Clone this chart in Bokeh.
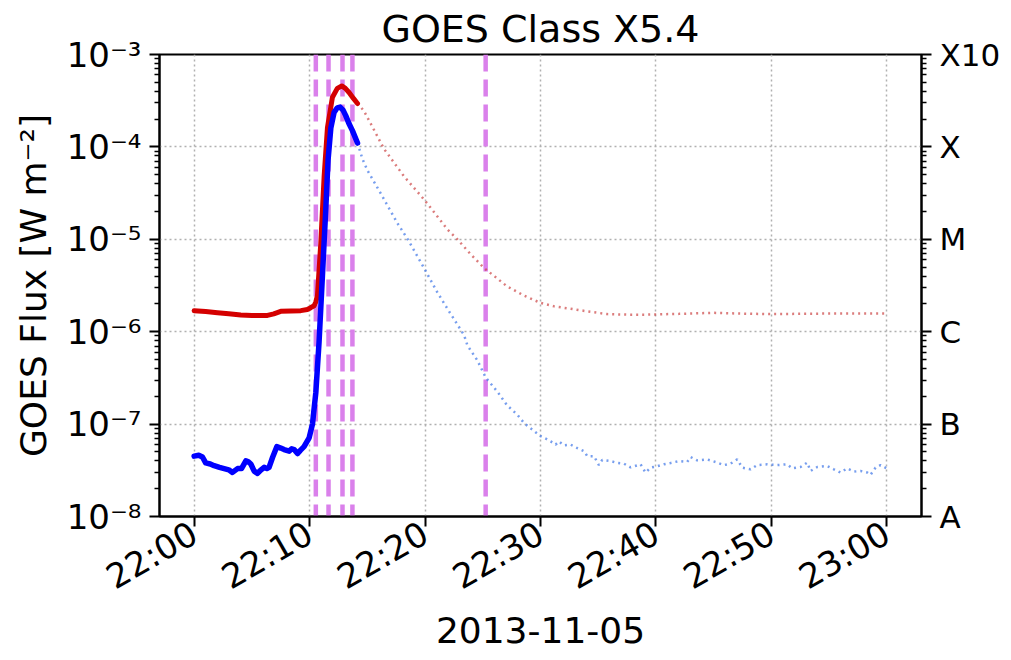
import numpy as np
import pandas as pd
from bokeh.plotting import figure
from bokeh.models import (FixedTicker, CustomJSTickFormatter, LogAxis, Span,
                          DatetimeTickFormatter, Range1d)
from bokeh.embed import file_html
from bokeh.resources import INLINE

# ---------------- data (minutes after 22:00 UT, 2013-11-05) ----------------
date_str = "2013-11-05"
start_str = "22:00"
title_str = "GOES Class X5.4"

# 1-8 A channel, solid part
long_solid_t = [0, 1, 2.02, 3, 4.04, 5, 6.35, 6.9, 7.5, 8.4, 9.24, 9.8, 10.1, 10.39,
                10.54, 10.68, 10.97, 11.26, 11.55, 11.98, 12.4, 12.79, 13.1, 13.42,
                13.8, 14.15]
long_solid_v = [1.69e-6, 1.65e-6, 1.6e-6, 1.56e-6, 1.52e-6, 1.5e-6, 1.5e-6, 1.56e-6,
                1.66e-6, 1.68e-6, 1.69e-6, 1.74e-6, 1.82e-6, 1.91e-6, 2.1e-6, 2.45e-6,
                9.1e-6, 4.8e-5, 1.63e-4, 3.45e-4, 4.3e-4, 4.57e-4, 4.3e-4, 3.88e-4,
                3.35e-4, 2.95e-4]
# 1-8 A channel, dotted part
long_dot_t = [14.15, 14.7, 15.3, 16.45, 18.18, 19.91, 20.5, 21.94, 22.8, 23.95, 25.1,
              26.1, 27.1, 28.6, 30.0, 31.2, 32.6, 34.06, 35.8, 37.5, 39.25, 42.0, 45.0,
              47.5, 49.9, 52.0, 54.5, 57.0, 60.0]
long_dot_v = [2.95e-4, 2.46e-4, 1.78e-4, 9.5e-5, 4.8e-5, 2.7e-5, 2.18e-5, 1.28e-5,
              1.0e-5, 6.9e-6, 4.9e-6, 3.9e-6, 3.1e-6, 2.45e-6, 2.05e-6, 1.88e-6,
              1.77e-6, 1.66e-6, 1.55e-6, 1.53e-6, 1.53e-6, 1.56e-6, 1.6e-6, 1.57e-6,
              1.55e-6, 1.56e-6, 1.57e-6, 1.57e-6, 1.57e-6]

# 0.5-4 A channel, solid part
short_solid_t = [0, 0.4, 0.72, 1.0, 1.4, 1.73, 2.2, 2.6, 3.0, 3.32, 3.76, 4.1, 4.48,
                 4.7, 4.91, 5.2, 5.49, 5.8, 6.06, 6.3, 6.49, 6.79, 7.16, 7.5, 7.79,
                 8.23, 8.45, 8.66, 8.95, 9.2, 9.52, 9.96, 10.25, 10.54, 10.82, 11.11,
                 11.4, 11.6, 11.84, 12.12, 12.4, 12.64, 12.9, 13.13, 13.4, 13.71, 14.15]
short_solid_v = [4.5e-8, 4.6e-8, 4.4e-8, 3.8e-8, 3.7e-8, 3.55e-8, 3.4e-8, 3.3e-8,
                 3.2e-8, 3.0e-8, 3.3e-8, 3.3e-8, 4.0e-8, 3.9e-8, 3.7e-8, 3.1e-8,
                 2.93e-8, 3.2e-8, 3.4e-8, 3.3e-8, 3.4e-8, 4.35e-8, 5.7e-8, 5.5e-8,
                 5.3e-8, 5.1e-8, 5.4e-8, 5.3e-8, 4.8e-8, 5.2e-8, 5.7e-8, 7.1e-8,
                 1.0e-7, 2.2e-7, 7.7e-7, 4.0e-6, 2.1e-5, 7.2e-5, 1.6e-4, 2.36e-4,
                 2.65e-4, 2.7e-4, 2.5e-4, 2.18e-4, 1.8e-4, 1.5e-4, 1.1e-4]
# 0.5-4 A channel, dotted part
short_dot_t = [14.15, 14.58, 15.0, 15.73, 16.45, 17.6, 18.5, 19.91, 21.07, 21.94,
               23.38, 23.67, 24.53, 25.25, 26.27, 27.1, 28.0, 28.6, 29.3, 30.01,
               30.45, 30.88, 31.31, 31.6, 32.03, 32.6, 33.19, 33.77, 34.05, 34.63,
               35.06, 35.35, 36.07, 36.65, 37.23, 37.8, 38.67, 39.1, 39.54, 40.11,
               40.69, 41.27, 41.99, 42.71, 43.0, 43.58, 44.44, 45.31, 45.89, 46.46,
               47.04, 47.48, 48.19, 48.77, 49.64, 50.5, 51.37, 51.8, 52.52, 53.1,
               53.39, 53.97, 54.83, 55.41, 55.99, 56.56, 57.14, 57.72, 58.3, 58.58,
               59.02, 59.45, 59.97]
short_dot_v = [1.1e-4, 7.4e-5, 5.6e-5, 3.9e-5, 2.7e-5, 1.5e-5, 1.0e-5, 4.9e-6,
               2.66e-6, 1.77e-6, 9.2e-7, 7.1e-7, 4.9e-7, 3.2e-7, 2.24e-7, 1.6e-7,
               1.26e-7, 1.02e-7, 8.7e-8, 7.4e-8, 6.98e-8, 6.5e-8, 6.0e-8, 6.5e-8,
               5.9e-8, 6.0e-8, 5.5e-8, 5.1e-8, 4.5e-8, 4.5e-8, 3.6e-8, 4.1e-8,
               3.98e-8, 3.8e-8, 3.73e-8, 3.4e-8, 3.67e-8, 2.99e-8, 3.38e-8, 3.5e-8,
               3.67e-8, 3.8e-8, 3.98e-8, 3.9e-8, 4.4e-8, 4.05e-8, 4.15e-8, 3.83e-8,
               3.6e-8, 3.73e-8, 4.15e-8, 3.38e-8, 3.24e-8, 3.6e-8, 3.67e-8, 3.6e-8,
               3.67e-8, 3.32e-8, 3.43e-8, 3.83e-8, 3.11e-8, 3.43e-8, 3.52e-8,
               3.24e-8, 2.99e-8, 3.32e-8, 3.06e-8, 3.11e-8, 2.99e-8, 2.82e-8,
               3.38e-8, 3.6e-8, 3.32e-8]

# vertical marker times (minutes after 22:00)
marker_t = [10.54, 11.64, 12.85, 13.71, 25.25]

decades = [-8, -7, -6, -5, -4, -3]
goes_classes = ["A", "B", "C", "M", "X", "X10"]
x_tick_minutes = [0, 10, 20, 30, 40, 50, 60]
x_pad_minutes = 3

# ---------------- helpers ----------------
t0 = pd.Timestamp(f"{date_str} {start_str}")


def to_dt(mins):
    return [t0 + pd.Timedelta(minutes=m) for m in mins]


def to_ms(mins):
    return [(t0 + pd.Timedelta(minutes=m)).value / 1e6 for m in mins]


FONT = "DejaVu Sans"

p = figure(width=1003, height=650, x_axis_type="datetime", y_axis_type="log",
           x_range=Range1d(to_dt([-x_pad_minutes])[0], to_dt([60 + x_pad_minutes])[0]),
           y_range=Range1d(10.0 ** decades[0], 10.0 ** decades[-1]),
           output_backend="svg", toolbar_location=None, title=title_str,
           min_border_left=159, min_border_right=82, min_border_top=50,
           min_border_bottom=134)

p.title.text_font = FONT
p.title.text_font_size = "38px"
p.title.text_font_style = "normal"
p.title.text_color = "black"
p.title.align = "center"
p.title.standoff = 8

p.outline_line_color = "black"
p.outline_line_width = 2
p.outline_line_alpha = 1

# tickers
y_major = [10.0 ** d for d in decades]
y_minor = [m * 10.0 ** d for d in decades[:-1] for m in range(2, 10)]
yticker = FixedTicker(ticks=y_major, minor_ticks=y_minor)
xticker = FixedTicker(ticks=to_ms(x_tick_minutes))

sup_code = """
const e = Math.round(Math.log10(tick));
const sup = {'-':'\u207b','0':'\u2070','1':'\u00b9','2':'\u00b2','3':'\u00b3','4':'\u2074','5':'\u2075','6':'\u2076','7':'\u2077','8':'\u2078','9':'\u2079'};
return '10' + String(e).split('').map(c => sup[c]).join('');
"""


def style_axis(ax, size="33px"):
    ax.axis_line_width = 2
    ax.axis_line_color = "black"
    ax.major_tick_line_width = 2
    ax.minor_tick_line_width = 1.5
    ax.major_tick_line_color = "black"
    ax.minor_tick_line_color = "black"
    ax.major_tick_in = 0
    ax.major_tick_out = 10
    ax.minor_tick_in = 0
    ax.minor_tick_out = 5
    ax.major_label_text_font = FONT
    ax.major_label_text_font_size = size
    ax.major_label_text_color = "black"
    ax.axis_label_text_font = FONT
    ax.axis_label_text_font_size = "36px"
    ax.axis_label_text_font_style = "normal"
    ax.axis_label_text_color = "black"


yax = p.yaxis[0]
yax.ticker = yticker
yax.formatter = CustomJSTickFormatter(code=sup_code)
yax.axis_label = "GOES Flux [W m\u207b\u00b2]"
style_axis(yax, size="34px")
yax.major_label_standoff = 8
yax.axis_label_standoff = 10

xax = p.xaxis[0]
xax.ticker = xticker
fmt = "%H:%M"
xax.formatter = DatetimeTickFormatter(minutes=fmt, hours=fmt, minsec=fmt, hourmin=fmt,
                                      seconds=fmt, days=fmt)
xax.major_label_orientation = np.pi / 6
xax.axis_label = date_str
style_axis(xax, size="34px")
xax.minor_tick_out = 0
xax.major_label_standoff = 4
xax.axis_label_standoff = 0

rax = LogAxis(ticker=yticker,
              formatter=CustomJSTickFormatter(args=dict(labels=goes_classes, lo=decades[0]),
                                              code="return labels[Math.round(Math.log10(tick)) - lo];"))
style_axis(rax, size="31px")
rax.major_label_standoff = 8
p.add_layout(rax, "right")

# grid
p.xgrid.ticker = xticker
p.ygrid.ticker = yticker
for g in (p.xgrid[0], p.ygrid[0]):
    g.grid_line_color = "#b0b0b0"
    g.grid_line_width = 1.5
    g.grid_line_dash = "2 3"

# vertical markers
for m in to_ms(marker_t):
    p.add_layout(Span(location=m, dimension="height", line_color="#da80eb",
                      line_width=4.5, line_dash="17 8", level="underlay"))

# curves
p.line(to_dt(long_dot_t), long_dot_v, line_color="#cc4444", line_alpha=0.7,
       line_width=2.5, line_dash="2 4")
p.line(to_dt(short_dot_t), short_dot_v, line_color="#4a7de8", line_alpha=0.75,
       line_width=2.5, line_dash="2 4")
p.line(to_dt(long_solid_t), long_solid_v, line_color="#d40000", line_width=5,
       line_join="round", line_cap="round")
p.line(to_dt(short_solid_t), short_solid_v, line_color="#0000ff", line_width=5.5,
       line_join="round", line_cap="round")

open("out.html", "w").write(file_html(p, INLINE))
